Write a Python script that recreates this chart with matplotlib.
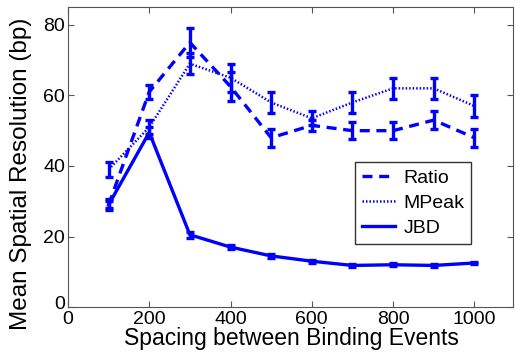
import numpy as np
import matplotlib
matplotlib.use("Agg")
import matplotlib.pyplot as plt
from matplotlib.transforms import ScaledTranslation

plt.rcParams['font.family'] = ['Liberation Sans', 'DejaVu Sans']

spacing = [100, 200, 300, 400, 500, 600, 700, 800, 900, 1000]

ratio = [29, 61, 75, 62.5, 48, 51.5, 50, 50, 53, 48]
ratio_err = [1.5, 2, 4, 4, 2.5, 1.5, 2.5, 2.5, 2.5, 2.5]

mpeak = [39, 51, 69, 65, 58, 53.5, 58, 62, 62, 57]
mpeak_err = [2, 2, 3, 4, 3, 2, 3, 3, 3, 3]

jbd = [29, 49.5, 20.5, 17, 14.5, 13, 11.8, 12, 11.8, 12.5]
jbd_err = [1, 1.5, 0.8, 0.6, 0.5, 0.4, 0.4, 0.4, 0.4, 0.4]

blue = (0, 0, 1)

fig = plt.figure(figsize=(5.15, 3.6), dpi=100)
ax = fig.add_axes([0.132, 0.147, 0.864, 0.833])

kw = dict(color=blue, lw=2.4, capsize=3, capthick=2.4, elinewidth=2.4)
ax.errorbar(spacing, ratio, yerr=ratio_err, ls=(0, (3, 2)), label="Ratio", **kw)
ax.errorbar(spacing, mpeak, yerr=mpeak_err, ls=(0, (0.6, 0.8)), label="MPeak",
            color=blue, lw=1.8, capsize=3, capthick=2.4, elinewidth=2.4)
ax.errorbar(spacing, jbd, yerr=jbd_err, ls="-", label="JBD", **kw)

ax.set_xlim(0, 1095)
ax.set_ylim(0, 85)
ax.set_xticks([0, 200, 400, 600, 800, 1000])
ax.set_yticks([0, 20, 40, 60, 80])
ax.tick_params(direction="in", labelsize=14, length=4, top=True, right=True,
               color="#555555")
ax.tick_params(axis="x", pad=3)
ax.tick_params(axis="y", pad=2)
for s in ax.spines.values():
    s.set_color("#555555")

# nudge the y "0" up a bit so it doesn't sit on the x "0"
lbl0 = ax.get_yticklabels()[0]
lbl0.set_transform(lbl0.get_transform() + ScaledTranslation(0, 3 / 72, fig.dpi_scale_trans))

ax.set_xlabel("Spacing between Binding Events", fontsize=16.5)
ax.set_ylabel("Mean Spatial Resolution (bp)", fontsize=17.5)
ax.xaxis.set_label_coords(0.502, -0.068, transform=ax.transAxes)
ax.xaxis.label.set_va("top")
ax.yaxis.set_label_coords(-0.105, 0.443, transform=ax.transAxes)
ax.yaxis.label.set_va("center")

handles, labels = ax.get_legend_handles_labels()
handles = [h[0] for h in handles]
leg = ax.legend(handles, labels, loc="lower left", bbox_to_anchor=(0.645, 0.21),
                fontsize=14, fancybox=False, edgecolor="black", handlelength=1.7,
                handletextpad=0.45, borderpad=0.35, labelspacing=0.4,
                borderaxespad=0)
leg.get_frame().set_linewidth(1.0)

fig.savefig("out.png", dpi=100)
